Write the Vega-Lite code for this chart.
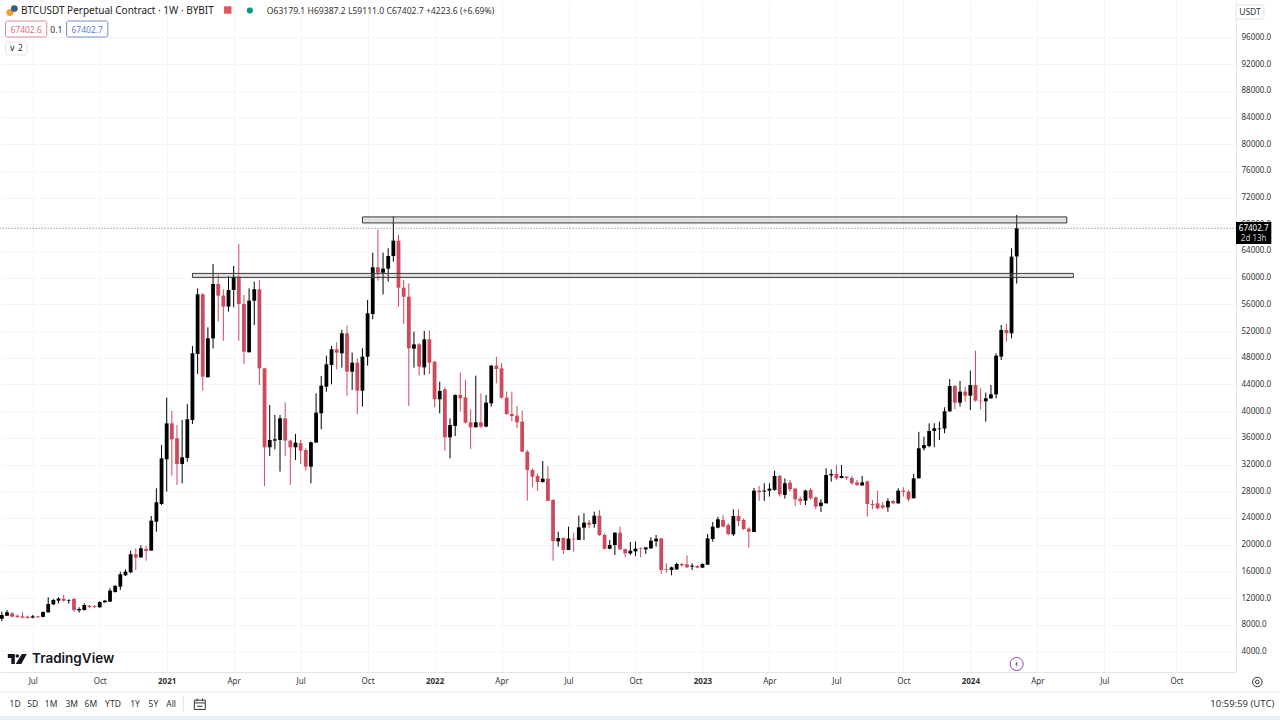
{"$schema":"https://vega.github.io/schema/vega-lite/v6.json","width":1236,"height":672,"autosize":{"type":"none"},"padding":{"left":0,"top":0,"right":44,"bottom":48},"background":"#ffffff","view":{"stroke":null},"config":{"font":"Noto Sans"},
"resolve":{"axis":{"x":"independent","y":"independent"},"scale":{"color":"independent","size":"independent","stroke":"independent"}},
"datasets":{"candles":[
{"t":"2020-05-25","o":8900,"h":9950,"l":8550,"c":9470},{"t":"2020-06-01","o":9370,"h":10220,"l":9330,"c":9870},{"t":"2020-06-08","o":9720,"h":9920,"l":9120,"c":9220},{"t":"2020-06-15","o":9370,"h":9520,"l":9020,"c":9170},{"t":"2020-06-22","o":9270,"h":9870,"l":8970,"c":9070},{"t":"2020-06-29","o":9220,"h":9370,"l":8920,"c":9020},{"t":"2020-07-06","o":9070,"h":9470,"l":8970,"c":9270},{"t":"2020-07-13","o":9270,"h":9350,"l":9050,"c":9130},{"t":"2020-07-20","o":9170,"h":10020,"l":9120,"c":9920},{"t":"2020-07-27","o":9870,"h":12120,"l":9830,"c":11120},{"t":"2020-08-03","o":11070,"h":11870,"l":10970,"c":11720},{"t":"2020-08-10","o":11620,"h":12120,"l":11220,"c":11920},{"t":"2020-08-17","o":11920,"h":12470,"l":11470,"c":11620},{"t":"2020-08-24","o":11620,"h":11820,"l":11170,"c":11720},{"t":"2020-08-31","o":11870,"h":12020,"l":9920,"c":10220},{"t":"2020-09-07","o":10170,"h":10620,"l":9820,"c":10370},{"t":"2020-09-14","o":10220,"h":11220,"l":10120,"c":10970},{"t":"2020-09-21","o":10870,"h":10970,"l":10470,"c":10670},{"t":"2020-09-28","o":10820,"h":10920,"l":10520,"c":10670},{"t":"2020-10-05","o":10620,"h":11520,"l":10570,"c":11420},{"t":"2020-10-12","o":11370,"h":11720,"l":11320,"c":11620},{"t":"2020-10-19","o":11470,"h":13470,"l":11420,"c":13120},{"t":"2020-10-26","o":12920,"h":13970,"l":12820,"c":13820},{"t":"2020-11-02","o":13720,"h":15960,"l":13220,"c":15560},{"t":"2020-11-09","o":15420,"h":16310,"l":15310,"c":15960},{"t":"2020-11-16","o":15860,"h":19110,"l":15710,"c":18560},{"t":"2020-11-23","o":18560,"h":19460,"l":16210,"c":18060},{"t":"2020-11-30","o":18110,"h":19910,"l":18010,"c":19460},{"t":"2020-12-07","o":19360,"h":19860,"l":17610,"c":19060},{"t":"2020-12-14","o":19110,"h":24300,"l":19110,"c":23600},{"t":"2020-12-21","o":23450,"h":28450,"l":21950,"c":26350},{"t":"2020-12-28","o":26100,"h":34950,"l":25950,"c":32940},
{"t":"2021-01-04","o":32800,"h":42030,"l":27950,"c":38180},{"t":"2021-01-11","o":38180,"h":40030,"l":30340,"c":35790},{"t":"2021-01-18","o":35935,"h":37930,"l":28945,"c":32090},{"t":"2021-01-25","o":32090,"h":38680,"l":29190,"c":33090},{"t":"2021-02-01","o":33000,"h":41080,"l":32440,"c":38780},{"t":"2021-02-08","o":38680,"h":49770,"l":38080,"c":48670},{"t":"2021-02-15","o":48570,"h":58400,"l":45575,"c":57505},{"t":"2021-02-22","o":57505,"h":57700,"l":43075,"c":45175},{"t":"2021-03-01","o":45075,"h":52560,"l":45075,"c":50915},{"t":"2021-03-08","o":50915,"h":62050,"l":49415,"c":59055},{"t":"2021-03-15","o":59055,"h":60500,"l":53410,"c":57310},{"t":"2021-03-22","o":57310,"h":58250,"l":50560,"c":55660},{"t":"2021-03-29","o":55660,"h":60250,"l":54910,"c":58155},{"t":"2021-04-05","o":58155,"h":61750,"l":55560,"c":60150},{"t":"2021-04-12","o":60150,"h":65045,"l":50560,"c":56060},{"t":"2021-04-19","o":56060,"h":57400,"l":47070,"c":48920},{"t":"2021-04-26","o":48820,"h":58400,"l":48820,"c":56560},{"t":"2021-05-03","o":56560,"h":59400,"l":52910,"c":58250},{"t":"2021-05-10","o":58250,"h":59650,"l":43925,"c":46420},{"t":"2021-05-17","o":46420,"h":46500,"l":28790,"c":34590},{"t":"2021-05-24","o":34590,"h":40930,"l":33290,"c":35690},{"t":"2021-05-31","o":35590,"h":39430,"l":34290,"c":35790},{"t":"2021-06-07","o":35690,"h":39430,"l":30940,"c":38930},{"t":"2021-06-14","o":38930,"h":41330,"l":33290,"c":35590},{"t":"2021-06-21","o":35590,"h":35700,"l":28945,"c":34590},{"t":"2021-06-28","o":34590,"h":36590,"l":32690,"c":35290},{"t":"2021-07-05","o":35190,"h":35690,"l":32090,"c":34090},{"t":"2021-07-12","o":34190,"h":34440,"l":31090,"c":31690},{"t":"2021-07-19","o":31690,"h":35440,"l":29190,"c":35340},{"t":"2021-07-26","o":35290,"h":42680,"l":35290,"c":39780},{"t":"2021-08-02","o":39680,"h":45270,"l":37285,"c":43825},{"t":"2021-08-09","o":43675,"h":48320,"l":42925,"c":47020},{"t":"2021-08-16","o":46920,"h":49770,"l":44025,"c":49270},{"t":"2021-08-23","o":49270,"h":50315,"l":46270,"c":48770},{"t":"2021-08-30","o":48670,"h":52165,"l":46520,"c":51665},{"t":"2021-09-06","o":51665,"h":52810,"l":42325,"c":45920},{"t":"2021-09-13","o":45920,"h":48770,"l":43175,"c":47270},{"t":"2021-09-20","o":47270,"h":47900,"l":39580,"c":43075},{"t":"2021-09-27","o":43075,"h":49420,"l":40680,"c":48170},{"t":"2021-10-04","o":48170,"h":56660,"l":46820,"c":54660},{"t":"2021-10-11","o":54560,"h":63750,"l":53760,"c":61550},{"t":"2021-10-18","o":61550,"h":67140,"l":59550,"c":60750},{"t":"2021-10-25","o":60750,"h":63750,"l":57500,"c":61350},{"t":"2021-11-01","o":61350,"h":64400,"l":59400,"c":63250},{"t":"2021-11-08","o":63250,"h":69140,"l":62400,"c":65545},{"t":"2021-11-15","o":65545,"h":66390,"l":55660,"c":58500},{"t":"2021-11-22","o":58500,"h":59650,"l":53060,"c":57150},{"t":"2021-11-29","o":57150,"h":59150,"l":40780,"c":49420},{"t":"2021-12-06","o":49370,"h":51915,"l":46520,"c":50010},{"t":"2021-12-13","o":50010,"h":50200,"l":45325,"c":46670},{"t":"2021-12-20","o":46570,"h":52015,"l":45425,"c":50765},{"t":"2021-12-27","o":50765,"h":52060,"l":45575,"c":47270},
{"t":"2022-01-03","o":47420,"h":47500,"l":40580,"c":41780},{"t":"2022-01-10","o":41780,"h":44425,"l":39680,"c":43025},{"t":"2022-01-17","o":43275,"h":43575,"l":34090,"c":36085},{"t":"2022-01-24","o":36085,"h":38930,"l":32940,"c":37930},{"t":"2022-01-31","o":37785,"h":42500,"l":36285,"c":42425},{"t":"2022-02-07","o":42425,"h":45775,"l":39930,"c":41930},{"t":"2022-02-14","o":42080,"h":44675,"l":38180,"c":38280},{"t":"2022-02-21","o":38330,"h":40280,"l":34340,"c":37585},{"t":"2022-02-28","o":37585,"h":45325,"l":37585,"c":38330},{"t":"2022-03-07","o":38330,"h":42675,"l":37435,"c":37685},{"t":"2022-03-14","o":37685,"h":42425,"l":37585,"c":41280},{"t":"2022-03-21","o":41180,"h":46900,"l":40680,"c":46820},{"t":"2022-03-28","o":46820,"h":48170,"l":44175,"c":46320},{"t":"2022-04-04","o":46420,"h":47170,"l":41900,"c":42025},{"t":"2022-04-11","o":42025,"h":42925,"l":39430,"c":39580},{"t":"2022-04-18","o":39580,"h":42925,"l":38530,"c":39280},{"t":"2022-04-25","o":39330,"h":40780,"l":37435,"c":38330},{"t":"2022-05-02","o":38430,"h":40080,"l":33935,"c":33935},{"t":"2022-05-09","o":33935,"h":34190,"l":26600,"c":31190},{"t":"2022-05-16","o":31190,"h":31440,"l":28600,"c":30190},{"t":"2022-05-23","o":30290,"h":30690,"l":28050,"c":29390},{"t":"2022-05-30","o":29390,"h":32540,"l":29300,"c":29890},{"t":"2022-06-06","o":29890,"h":31790,"l":26550,"c":26550},{"t":"2022-06-13","o":26700,"h":26800,"l":17610,"c":20555},{"t":"2022-06-20","o":20505,"h":21950,"l":19700,"c":21005},{"t":"2022-06-27","o":21005,"h":21100,"l":18610,"c":19210},{"t":"2022-07-04","o":19210,"h":22700,"l":19210,"c":20905},{"t":"2022-07-11","o":20905,"h":21800,"l":18960,"c":20800},{"t":"2022-07-18","o":20705,"h":24350,"l":20700,"c":22600},{"t":"2022-07-25","o":22550,"h":24700,"l":20705,"c":23300},{"t":"2022-08-01","o":23300,"h":23700,"l":22450,"c":23000},{"t":"2022-08-08","o":23100,"h":24950,"l":22550,"c":24350},{"t":"2022-08-15","o":24350,"h":25200,"l":21300,"c":21450},{"t":"2022-08-22","o":21450,"h":21700,"l":19300,"c":19400},{"t":"2022-08-29","o":19400,"h":20700,"l":19300,"c":19950},{"t":"2022-09-05","o":19950,"h":21850,"l":18460,"c":21800},{"t":"2022-09-12","o":21800,"h":22700,"l":19200,"c":19300},{"t":"2022-09-19","o":19350,"h":19400,"l":18110,"c":18700},{"t":"2022-09-26","o":18700,"h":20400,"l":18460,"c":19100},{"t":"2022-10-03","o":19000,"h":20450,"l":18300,"c":19400},{"t":"2022-10-10","o":19450,"h":19600,"l":18110,"c":19350},{"t":"2022-10-17","o":19300,"h":19600,"l":18600,"c":19600},{"t":"2022-10-24","o":19450,"h":21100,"l":19350,"c":20600},{"t":"2022-10-31","o":20500,"h":21450,"l":19700,"c":20900},{"t":"2022-11-07","o":20950,"h":21000,"l":15610,"c":16200},{"t":"2022-11-14","o":16300,"h":17200,"l":15810,"c":16200},{"t":"2022-11-21","o":16210,"h":16710,"l":15410,"c":16610},{"t":"2022-11-28","o":16300,"h":17310,"l":16210,"c":17110},{"t":"2022-12-05","o":17110,"h":17310,"l":16710,"c":16910},{"t":"2022-12-12","o":17060,"h":18400,"l":16510,"c":16610},{"t":"2022-12-19","o":16710,"h":17210,"l":16210,"c":16860},{"t":"2022-12-26","o":16810,"h":16910,"l":16460,"c":16560},
{"t":"2023-01-02","o":16560,"h":17200,"l":16500,"c":17110},{"t":"2023-01-09","o":17010,"h":21600,"l":16960,"c":20955},{"t":"2023-01-16","o":20850,"h":23400,"l":20450,"c":22700},{"t":"2023-01-23","o":22550,"h":24200,"l":22450,"c":23800},{"t":"2023-01-30","o":23700,"h":24450,"l":22600,"c":22700},{"t":"2023-02-06","o":22950,"h":23200,"l":21400,"c":21600},{"t":"2023-02-13","o":21550,"h":25300,"l":21300,"c":24300},{"t":"2023-02-20","o":24300,"h":25300,"l":22800,"c":23550},{"t":"2023-02-27","o":23700,"h":23950,"l":22200,"c":22350},{"t":"2023-03-06","o":22400,"h":22600,"l":19550,"c":21950},{"t":"2023-03-13","o":21900,"h":28500,"l":21900,"c":28100},{"t":"2023-03-20","o":28100,"h":28800,"l":26550,"c":27850},{"t":"2023-03-27","o":27950,"h":29200,"l":26550,"c":28100},{"t":"2023-04-03","o":28100,"h":29200,"l":27200,"c":28400},{"t":"2023-04-10","o":28200,"h":31090,"l":28100,"c":30300},{"t":"2023-04-17","o":30300,"h":30450,"l":27200,"c":27550},{"t":"2023-04-24","o":27450,"h":29940,"l":26900,"c":29200},{"t":"2023-05-01","o":29300,"h":29700,"l":27950,"c":28300},{"t":"2023-05-08","o":28400,"h":28500,"l":25800,"c":26800},{"t":"2023-05-15","o":26900,"h":27200,"l":25950,"c":26500},{"t":"2023-05-22","o":26600,"h":28250,"l":25950,"c":28100},{"t":"2023-05-29","o":28200,"h":28500,"l":26700,"c":26950},{"t":"2023-06-05","o":27100,"h":27200,"l":25300,"c":25700},{"t":"2023-06-12","o":25800,"h":26800,"l":24900,"c":26300},{"t":"2023-06-19","o":26200,"h":31440,"l":26200,"c":30440},{"t":"2023-06-26","o":30390,"h":31290,"l":29440,"c":30590},{"t":"2023-07-03","o":30590,"h":31940,"l":29690,"c":29940},{"t":"2023-07-10","o":29990,"h":31940,"l":29940,"c":30290},{"t":"2023-07-17","o":30190,"h":30290,"l":29700,"c":29990},{"t":"2023-07-24","o":29990,"h":30290,"l":28990,"c":29190},{"t":"2023-07-31","o":29340,"h":29690,"l":28790,"c":28940},{"t":"2023-08-07","o":28890,"h":30290,"l":28790,"c":29340},{"t":"2023-08-14","o":29490,"h":29600,"l":24200,"c":26100},{"t":"2023-08-21","o":26100,"h":26700,"l":25300,"c":25950},{"t":"2023-08-28","o":26200,"h":28100,"l":25300,"c":25450},{"t":"2023-09-04","o":25900,"h":26400,"l":25300,"c":25550},{"t":"2023-09-11","o":25600,"h":26950,"l":24950,"c":26550},{"t":"2023-09-18","o":26550,"h":26700,"l":26100,"c":26200},{"t":"2023-09-25","o":26200,"h":28450,"l":26100,"c":28100},{"t":"2023-10-02","o":28100,"h":28600,"l":27200,"c":27900},{"t":"2023-10-09","o":27950,"h":28200,"l":26450,"c":26800},{"t":"2023-10-16","o":26950,"h":30590,"l":26950,"c":29940},{"t":"2023-10-23","o":29945,"h":36900,"l":29900,"c":34440},{"t":"2023-10-30","o":34440,"h":36185,"l":34090,"c":34938},{"t":"2023-11-06","o":34788,"h":38183,"l":34590,"c":37034},{"t":"2023-11-13","o":37034,"h":38183,"l":34600,"c":37434},{"t":"2023-11-20","o":37300,"h":38432,"l":35686,"c":37400},{"t":"2023-11-27","o":37400,"h":40580,"l":36685,"c":39980},{"t":"2023-12-04","o":39980,"h":44823,"l":39900,"c":43775},{"t":"2023-12-11","o":43775,"h":43925,"l":40280,"c":41278},{"t":"2023-12-18","o":41278,"h":44524,"l":40680,"c":42926},{"t":"2023-12-25","o":42926,"h":43675,"l":41428,"c":42327},
{"t":"2024-01-01","o":42327,"h":46072,"l":40180,"c":43925},{"t":"2024-01-08","o":43925,"h":49068,"l":41428,"c":41578},{"t":"2024-01-15","o":41578,"h":43425,"l":40280,"c":41478},{"t":"2024-01-22","o":41478,"h":42775,"l":38432,"c":41928},{"t":"2024-01-29","o":41928,"h":43925,"l":41828,"c":42527},{"t":"2024-02-05","o":42527,"h":48668,"l":41928,"c":48318},{"t":"2024-02-12","o":48169,"h":52913,"l":47670,"c":52163},{"t":"2024-02-19","o":52163,"h":53062,"l":50416,"c":51664},{"t":"2024-02-26","o":51664,"h":64396,"l":50915,"c":63148},{"t":"2024-03-04","o":63179.1,"h":69387.2,"l":59111,"c":67402.7}
],
"zones":[{"t":"2021-09-27","t2":"2024-05-11","p":69100,"p2":68200},{"t":"2021-02-08","t2":"2024-05-20","p":60640,"p2":60040}]},
"layer":[
{"data":{"name":"candles"},"mark":{"type":"rule","strokeWidth":1},"encoding":{
"x":{"field":"t","type":"temporal","title":null,"scale":{"type":"utc","padding":0,"domain":["2020-05-22T12:00:00Z","2024-12-27T00:00:00Z"]},"axis":{"orient":"bottom","title":null,"values":["2020-07-06","2020-10-05","2021-01-04","2021-04-05","2021-07-05","2021-10-04","2022-01-03","2022-04-04","2022-07-04","2022-10-03","2023-01-02","2023-04-03","2023-07-03","2023-10-02","2024-01-01","2024-04-01","2024-07-01","2024-10-07"],"labelExpr":"utcmonth(datum.value)==0?utcFormat(datum.value,'%Y'):utcFormat(datum.value,'%b')","labelFontWeight":{"condition":{"test":"utcmonth(datum.value)==0","value":"bold"},"value":"normal"},"labelFontSize":8,"labelColor":"#333333","labelPadding":5,"ticks":false,"grid":true,"gridColor":"#f5f5f7","gridWidth":1,"domainColor":"#e4e6ec","labelOverlap":false,"labelFlush":false}},
"y":{"field":"l","type":"quantitative","title":null,"scale":{"padding":0,"domain":[929,101595],"nice":false,"zero":false},"axis":{"orient":"right","title":null,"values":[4000,8000,12000,16000,20000,24000,28000,32000,36000,40000,44000,48000,52000,56000,60000,64000,68000,72000,76000,80000,84000,88000,92000,96000],"format":".1f","labelFontSize":8,"labelColor":"#333333","labelPadding":5,"ticks":false,"grid":true,"gridColor":"#f5f5f7","gridWidth":1,"domainColor":"#e4e6ec","labelOverlap":false,"labelFlush":false}},
"y2":{"field":"h"},"color":{"condition":{"test":"datum.c>=datum.o","value":"#000000"},"value":"#cd4a5c"}}},
{"data":{"name":"candles"},"mark":{"type":"bar","size":3.8,"orient":"vertical"},"encoding":{
"x":{"field":"t","type":"temporal","axis":null,"scale":{"type":"utc","padding":0,"domain":["2020-05-22T12:00:00Z","2024-12-27T00:00:00Z"]}},
"y":{"field":"o","type":"quantitative","axis":null,"scale":{"padding":0,"domain":[929,101595],"nice":false,"zero":false}},"y2":{"field":"c"},"color":{"condition":{"test":"datum.c>=datum.o","value":"#000000"},"value":"#cd4a5c"}}},
{"data":{"values":[{"t":"2020-05-22","t2":"2024-12-27","p":67402.7}]},"mark":{"type":"rule","stroke":"#666666","strokeWidth":1,"strokeDash":[1,2],"clip":false},"encoding":{"x":{"field":"t","type":"temporal","axis":null,"scale":{"type":"utc","padding":0,"domain":["2020-05-22T12:00:00Z","2024-12-27T00:00:00Z"]}},"x2":{"field":"t2"},"y":{"field":"p","type":"quantitative","axis":null,"scale":{"padding":0,"domain":[929,101595],"nice":false,"zero":false}}}},
{"data":{"name":"zones"},"mark":{"type":"rect","fill":"#9a9a9a","fillOpacity":0.3,"stroke":"#3a3a3a","strokeWidth":1},"encoding":{"x":{"field":"t","type":"temporal","axis":null,"scale":{"type":"utc","padding":0,"domain":["2020-05-22T12:00:00Z","2024-12-27T00:00:00Z"]}},"x2":{"field":"t2"},"y":{"field":"p","type":"quantitative","axis":null,"scale":{"padding":0,"domain":[929,101595],"nice":false,"zero":false}},"y2":{"field":"p2"}}},
{"data":{"values":[{"t":"2024-12-27","t2":"2025-02-13","p":68340,"p2":65040,"fill":"tag"},{"t":"2020-05-22","t2":"2025-02-25","p":-5662,"p2":-6300,"fill":"band"}]},"mark":{"type":"rect","clip":false},"encoding":{"x":{"field":"t","type":"temporal","axis":null,"scale":{"type":"utc","padding":0,"domain":["2020-05-22T12:00:00Z","2024-12-27T00:00:00Z"]}},"x2":{"field":"t2"},"y":{"field":"p","type":"quantitative","axis":null,"scale":{"padding":0,"domain":[929,101595],"nice":false,"zero":false}},"y2":{"field":"p2"},"color":{"field":"fill","type":"nominal","legend":null,"scale":{"domain":["tag","band"],"range":["#000000","#e9edf5"]}}}},
{"data":{"values":[{"t":"2020-05-30","t2":"2020-07-25","p":98449,"p2":96052,"k":"red"},{"t":"2020-08-21","t2":"2020-10-16","p":98449,"p2":96052,"k":"blue"},{"t":"2020-05-30","t2":"2020-06-28","p":95303,"p2":93357,"k":"grey"},{"t":"2024-12-27","t2":"2025-02-03","p":100846,"p2":98749,"k":"grey"}]},"mark":{"type":"rect","fill":"#ffffff","strokeWidth":1,"cornerRadius":2,"clip":false},"encoding":{"x":{"field":"t","type":"temporal","axis":null,"scale":{"type":"utc","padding":0,"domain":["2020-05-22T12:00:00Z","2024-12-27T00:00:00Z"]}},"x2":{"field":"t2"},"y":{"field":"p","type":"quantitative","axis":null,"scale":{"padding":0,"domain":[929,101595],"nice":false,"zero":false}},"y2":{"field":"p2"},"stroke":{"field":"k","type":"nominal","legend":null,"scale":{"domain":["red","blue","grey"],"range":["#e08a93","#6f8fc9","#e0e3eb"]}}}},
{"data":{"values":[{"t":"2020-05-22","t2":"2025-02-25","p":-2067}]},"mark":{"type":"rule","stroke":"#e4e6ec","strokeWidth":1,"clip":false},"encoding":{"x":{"field":"t","type":"temporal","axis":null,"scale":{"type":"utc","padding":0,"domain":["2020-05-22T12:00:00Z","2024-12-27T00:00:00Z"]}},"x2":{"field":"t2"},"y":{"field":"p","type":"quantitative","axis":null,"scale":{"padding":0,"domain":[929,101595],"nice":false,"zero":false}}}},
{"data":{"values":[{"t":"2021-01-27","p":-2666,"p2":-5063}]},"mark":{"type":"rule","stroke":"#e4e6ec","strokeWidth":1,"clip":false},"encoding":{"x":{"field":"t","type":"temporal","axis":null,"scale":{"type":"utc","padding":0,"domain":["2020-05-22T12:00:00Z","2024-12-27T00:00:00Z"]}},"y":{"field":"p","type":"quantitative","axis":null,"scale":{"padding":0,"domain":[929,101595],"nice":false,"zero":false}},"y2":{"field":"p2"}}},
{"data":{"values":[{"label":"BTCUSDT Perpetual Contract · 1W · BYBIT","t":"2020-06-20","p":100022}]},"mark":{"type":"text","align":"left","baseline":"middle","fontSize":10,"color":"#222222","clip":false},"encoding":{"x":{"field":"t","type":"temporal","axis":null,"scale":{"type":"utc","padding":0,"domain":["2020-05-22T12:00:00Z","2024-12-27T00:00:00Z"]}},"y":{"field":"p","type":"quantitative","axis":null,"scale":{"padding":0,"domain":[929,101595],"nice":false,"zero":false}},"text":{"field":"label"}}},
{"data":{"values":[{"label":"O63179.1 H69387.2 L59111.0 C67402.7 +4223.6 (+6.69%)","t":"2021-05-20","p":100022}]},"mark":{"type":"text","align":"left","baseline":"middle","fontSize":8.6,"color":"#333333","clip":false},"encoding":{"x":{"field":"t","type":"temporal","axis":null,"scale":{"type":"utc","padding":0,"domain":["2020-05-22T12:00:00Z","2024-12-27T00:00:00Z"]}},"y":{"field":"p","type":"quantitative","axis":null,"scale":{"padding":0,"domain":[929,101595],"nice":false,"zero":false}},"text":{"field":"label"}}},
{"data":{"values":[{"label":"67402.6","t":"2020-06-27","p":97170,"k":"red"},{"label":"0.1","t":"2020-08-07","p":97170,"k":"dark"},{"label":"67402.7","t":"2020-09-18","p":97170,"k":"blue"},{"label":"∨ 2","t":"2020-06-13","p":94406,"k":"dark"},{"label":"USDT","t":"2025-01-15","p":99800,"k":"dark"},{"label":"1D","t":"2020-06-12","p":-3865,"k":"dark"},{"label":"5D","t":"2020-07-06","p":-3865,"k":"dark"},{"label":"1M","t":"2020-07-31","p":-3865,"k":"dark"},{"label":"3M","t":"2020-08-28","p":-3865,"k":"dark"},{"label":"6M","t":"2020-09-23","p":-3865,"k":"dark"},{"label":"YTD","t":"2020-10-23","p":-3865,"k":"dark"},{"label":"1Y","t":"2020-11-22","p":-3865,"k":"dark"},{"label":"5Y","t":"2020-12-17","p":-3865,"k":"dark"},{"label":"All","t":"2021-01-10","p":-3865,"k":"dark"}]},"mark":{"type":"text","align":"center","baseline":"middle","fontSize":8.5,"clip":false},"encoding":{"x":{"field":"t","type":"temporal","axis":null,"scale":{"type":"utc","padding":0,"domain":["2020-05-22T12:00:00Z","2024-12-27T00:00:00Z"]}},"y":{"field":"p","type":"quantitative","axis":null,"scale":{"padding":0,"domain":[929,101595],"nice":false,"zero":false}},"text":{"field":"label"},"color":{"field":"k","type":"nominal","legend":null,"scale":{"domain":["red","blue","dark"],"range":["#d9707c","#5d82c4","#333333"]}}}},
{"data":{"values":[{"label":"67402.7","t":"2025-01-20","p":67365,"k":"a"},{"label":"2d 13h","t":"2025-01-20","p":65867,"k":"b"}]},"mark":{"type":"text","align":"center","baseline":"middle","fontSize":8,"clip":false},"encoding":{"x":{"field":"t","type":"temporal","axis":null,"scale":{"type":"utc","padding":0,"domain":["2020-05-22T12:00:00Z","2024-12-27T00:00:00Z"]}},"y":{"field":"p","type":"quantitative","axis":null,"scale":{"padding":0,"domain":[929,101595],"nice":false,"zero":false}},"text":{"field":"label"},"color":{"field":"k","type":"nominal","legend":null,"scale":{"domain":["a","b"],"range":["#ffffff","#cfcfcf"]}}}},
{"data":{"values":[{"label":"10:59:59 (UTC)","t":"2025-02-17","p":-3865}]},"mark":{"type":"text","align":"right","baseline":"middle","fontSize":9.5,"color":"#333333","clip":false},"encoding":{"x":{"field":"t","type":"temporal","axis":null,"scale":{"type":"utc","padding":0,"domain":["2020-05-22T12:00:00Z","2024-12-27T00:00:00Z"]}},"y":{"field":"p","type":"quantitative","axis":null,"scale":{"padding":0,"domain":[929,101595],"nice":false,"zero":false}},"text":{"field":"label"}}},
{"data":{"values":[{"label":"TradingView","t":"2020-07-05","p":2951}]},"mark":{"type":"text","align":"left","baseline":"middle","font":"Inter","fontWeight":600,"fontSize":13.5,"color":"#131722","clip":false},"encoding":{"x":{"field":"t","type":"temporal","axis":null,"scale":{"type":"utc","padding":0,"domain":["2020-05-22T12:00:00Z","2024-12-27T00:00:00Z"]}},"y":{"field":"p","type":"quantitative","axis":null,"scale":{"padding":0,"domain":[929,101595],"nice":false,"zero":false}},"text":{"field":"label"}}},
{"data":{"values":[{"t":"2020-06-15","p":2876}]},"mark":{"type":"point","filled":true,"size":361,"color":"#131722","opacity":1,"clip":false,"shape":"M-1,-.53L-.26,-.53L-.26,.53L-.63,.53L-.63,-.1L-1,-.1ZM-.18,-.32A.18,.18 0 1 1 .18,-.32A.18,.18 0 1 1 -.18,-.32ZM.47,-.53L1,-.53L.42,.53L-.16,.53Z"},"encoding":{"x":{"field":"t","type":"temporal","axis":null,"scale":{"type":"utc","padding":0,"domain":["2020-05-22T12:00:00Z","2024-12-27T00:00:00Z"]}},"y":{"field":"p","type":"quantitative","axis":null,"scale":{"padding":0,"domain":[929,101595],"nice":false,"zero":false}}}},
{"data":{"values":[{"t":"2024-03-04","p":2128,"k":"ring"}]},"mark":{"type":"point","filled":false,"size":170,"stroke":"#9c3fb5","strokeWidth":1,"opacity":1,"clip":false},"encoding":{"x":{"field":"t","type":"temporal","axis":null,"scale":{"type":"utc","padding":0,"domain":["2020-05-22T12:00:00Z","2024-12-27T00:00:00Z"]}},"y":{"field":"p","type":"quantitative","axis":null,"scale":{"padding":0,"domain":[929,101595],"nice":false,"zero":false}}}},
{"data":{"values":[{"t":"2024-03-04","p":2128}]},"mark":{"type":"point","filled":true,"size":64,"fill":"#9c3fb5","opacity":1,"clip":false,"shape":"M.2,-.8L-.4,.15L-.05,.15L-.2,.8L.4,-.15L.05,-.15Z"},"encoding":{"x":{"field":"t","type":"temporal","axis":null,"scale":{"type":"utc","padding":0,"domain":["2020-05-22T12:00:00Z","2024-12-27T00:00:00Z"]}},"y":{"field":"p","type":"quantitative","axis":null,"scale":{"padding":0,"domain":[929,101595],"nice":false,"zero":false}}}},
{"data":{"values":[{"t":"2020-06-05","p":99722,"k":"orange"},{"t":"2020-06-11","p":100321,"k":"navy"},{"t":"2021-04-27","p":100022,"k":"halo"},{"t":"2021-04-27","p":100022,"k":"green"}]},"mark":{"type":"point","filled":true,"opacity":1,"clip":false},"encoding":{"x":{"field":"t","type":"temporal","axis":null,"scale":{"type":"utc","padding":0,"domain":["2020-05-22T12:00:00Z","2024-12-27T00:00:00Z"]}},"y":{"field":"p","type":"quantitative","axis":null,"scale":{"padding":0,"domain":[929,101595],"nice":false,"zero":false}},"size":{"field":"k","type":"nominal","legend":null,"scale":{"domain":["orange","navy","halo","green"],"range":[50,36,110,22]}},"color":{"field":"k","type":"nominal","legend":null,"scale":{"domain":["orange","navy","halo","green"],"range":["#f0a030","#2f5f80","#d3efea","#089981"]}}}},
{"data":{"values":[{"t":"2021-03-28","p":100097}]},"mark":{"type":"point","shape":"square","filled":true,"size":55,"color":"#e8525c","opacity":1,"clip":false},"encoding":{"x":{"field":"t","type":"temporal","axis":null,"scale":{"type":"utc","padding":0,"domain":["2020-05-22T12:00:00Z","2024-12-27T00:00:00Z"]}},"y":{"field":"p","type":"quantitative","axis":null,"scale":{"padding":0,"domain":[929,101595],"nice":false,"zero":false}}}},
{"data":{"values":[{"t":"2021-02-18","p":-3865}]},"mark":{"type":"point","filled":false,"size":120,"stroke":"#333333","strokeWidth":1,"opacity":1,"clip":false,"shape":"M-1,-.7H1V1H-1ZM-1,-.2H1M-.5,-1V-.5M.5,-1V-.5M-.5,.4H.5"},"encoding":{"x":{"field":"t","type":"temporal","axis":null,"scale":{"type":"utc","padding":0,"domain":["2020-05-22T12:00:00Z","2024-12-27T00:00:00Z"]}},"y":{"field":"p","type":"quantitative","axis":null,"scale":{"padding":0,"domain":[929,101595],"nice":false,"zero":false}}}},
{"data":{"values":[{"t":"2025-01-25","p":-569,"k":"outer"},{"t":"2025-01-25","p":-569,"k":"inner"}]},"mark":{"type":"point","filled":false,"stroke":"#333333","strokeWidth":1,"opacity":1,"clip":false},"encoding":{"x":{"field":"t","type":"temporal","axis":null,"scale":{"type":"utc","padding":0,"domain":["2020-05-22T12:00:00Z","2024-12-27T00:00:00Z"]}},"y":{"field":"p","type":"quantitative","axis":null,"scale":{"padding":0,"domain":[929,101595],"nice":false,"zero":false}},"size":{"field":"k","type":"nominal","legend":null,"scale":{"domain":["outer","inner"],"range":[90,14]}}}}
]}
